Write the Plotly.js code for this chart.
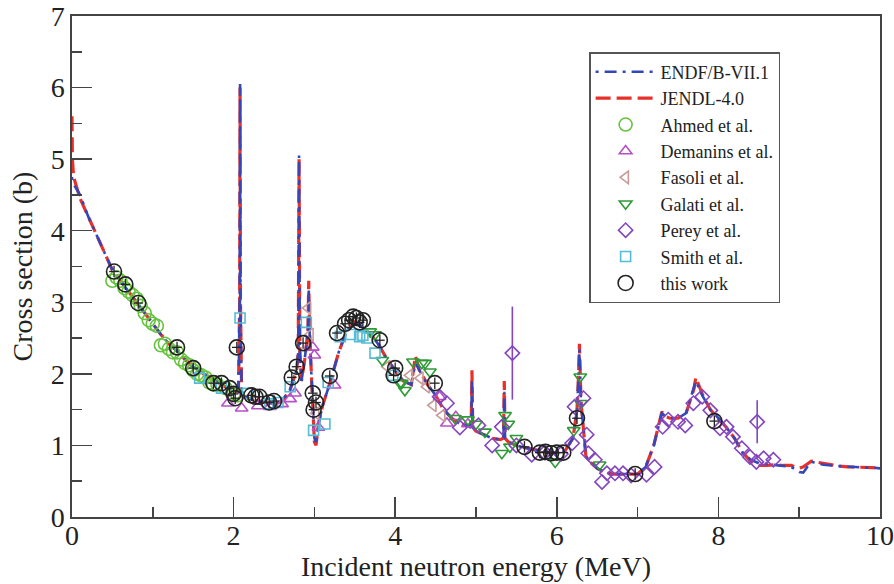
<!DOCTYPE html>
<html>
<head>
<meta charset="utf-8">
<script src="https://cdn.plot.ly/plotly-3.0.1.min.js"></script>
<style>html,body{margin:0;padding:0;background:#fff;}#chart{width:894px;height:584px;}</style>
</head>
<body>
<div id="chart"></div>
<script>
// ---- Evaluated data (ENDF/B-VII.1) ----
const endfX = [0,0.005,0.02,0.1,0.2,0.3,0.4,0.5,0.6,0.7,0.8,0.9,1.0,1.1,1.2,1.3,1.4,1.5,1.6,1.7,1.8,1.9,2.0,2.06,2.075,2.08,2.085,2.1,2.2,2.3,2.4,2.5,2.6,2.7,2.78,2.8,2.81,2.82,2.84,2.88,2.92,2.93,2.94,2.97,3.0,3.02,3.05,3.1,3.2,3.3,3.4,3.5,3.6,3.7,3.8,3.9,4.0,4.1,4.2,4.25,4.3,4.4,4.5,4.6,4.7,4.8,4.9,4.94,4.95,4.96,5.0,5.1,5.2,5.3,5.34,5.35,5.36,5.4,5.5,5.6,5.7,5.8,5.9,6.0,6.1,6.2,6.25,6.27,6.28,6.3,6.33,6.36,6.4,6.5,6.6,6.7,6.8,6.9,7.0,7.1,7.2,7.3,7.35,7.4,7.5,7.6,7.7,7.72,7.8,7.9,8.0,8.1,8.2,8.3,8.4,8.5,8.6,8.7,8.8,8.9,9.0,9.05,9.1,9.15,9.2,9.3,9.4,9.5,9.6,9.7,9.8,9.9,10];
const endfY = [4.75,4.7,4.65,4.5,4.2,3.95,3.7,3.45,3.3,3.15,3.0,2.85,2.7,2.55,2.42,2.32,2.2,2.1,2.02,1.95,1.88,1.82,1.77,1.75,3.0,6.05,3.0,1.7,1.65,1.62,1.6,1.58,1.62,1.78,2.05,2.3,5.05,2.3,1.9,2.2,2.6,3.2,2.6,1.8,1.1,1.05,1.3,1.55,1.9,2.3,2.6,2.72,2.65,2.55,2.4,2.2,2.05,1.9,1.85,2.15,2.05,1.85,1.7,1.5,1.38,1.3,1.28,1.25,1.9,1.25,1.2,1.15,1.1,1.08,1.1,1.75,1.1,1.05,1.0,0.97,0.95,0.92,0.9,0.9,0.92,1.1,1.5,2.0,2.35,1.6,1.2,0.85,0.78,0.68,0.62,0.6,0.6,0.6,0.6,0.7,1.0,1.45,1.4,1.38,1.38,1.45,1.8,1.9,1.7,1.5,1.38,1.25,1.1,0.9,0.8,0.75,0.74,0.73,0.72,0.7,0.63,0.62,0.7,0.77,0.76,0.73,0.72,0.71,0.7,0.7,0.69,0.69,0.68];
// ---- Evaluated data (JENDL-4.0) ----
const jendlX = [0,0.005,0.02,0.1,0.2,0.3,0.4,0.5,0.6,0.7,0.8,0.9,1.0,1.1,1.2,1.3,1.4,1.5,1.6,1.7,1.8,1.9,2.0,2.06,2.075,2.08,2.085,2.1,2.2,2.3,2.4,2.5,2.6,2.7,2.78,2.8,2.81,2.82,2.84,2.88,2.92,2.93,2.94,2.97,3.0,3.02,3.05,3.1,3.2,3.3,3.4,3.5,3.6,3.7,3.8,3.9,4.0,4.1,4.2,4.25,4.3,4.4,4.5,4.6,4.7,4.8,4.9,4.94,4.95,4.96,5.0,5.1,5.2,5.3,5.34,5.35,5.36,5.4,5.5,5.6,5.7,5.8,5.9,6.0,6.1,6.2,6.25,6.27,6.28,6.3,6.33,6.36,6.4,6.5,6.6,6.7,6.8,6.9,7.0,7.1,7.2,7.3,7.35,7.4,7.5,7.6,7.7,7.72,7.8,7.9,8.0,8.1,8.2,8.3,8.4,8.5,8.6,8.7,8.8,8.9,9.0,9.05,9.1,9.15,9.2,9.3,9.4,9.5,9.6,9.7,9.8,9.9,10];
const jendlY = [5.6,5.0,4.75,4.45,4.2,3.95,3.7,3.45,3.3,3.15,3.0,2.85,2.7,2.55,2.42,2.32,2.2,2.1,2.02,1.95,1.88,1.82,1.77,1.75,3.0,6.0,3.0,1.7,1.65,1.62,1.6,1.58,1.62,1.78,2.05,2.3,5.0,2.3,1.9,2.2,2.6,3.3,2.6,1.8,1.05,1.0,1.3,1.55,1.9,2.3,2.6,2.72,2.65,2.55,2.4,2.2,2.05,1.9,1.85,2.25,2.05,1.85,1.7,1.5,1.38,1.3,1.28,1.25,2.05,1.25,1.2,1.15,1.1,1.08,1.1,1.9,1.1,1.05,1.0,0.97,0.95,0.92,0.9,0.9,0.92,1.1,1.5,2.0,2.42,1.6,1.2,0.85,0.78,0.68,0.62,0.6,0.6,0.6,0.6,0.7,1.0,1.47,1.4,1.38,1.38,1.45,1.8,1.95,1.72,1.5,1.38,1.25,1.1,0.9,0.78,0.72,0.72,0.73,0.72,0.72,0.68,0.7,0.74,0.78,0.77,0.75,0.72,0.71,0.7,0.7,0.7,0.69,0.68];

// ---- Experimental data ----
const ahmedX = [0.5,0.55,0.6,0.65,0.7,0.75,0.8,0.85,0.9,0.95,1.0,1.05,1.1,1.15,1.2,1.25,1.3,1.35,1.4,1.45,1.5,1.55,1.6,1.65,1.7,1.75,1.8,1.9,2.0,2.05];
const ahmedY = [3.3,3.35,3.3,3.2,3.15,3.1,3.05,2.95,2.85,2.75,2.7,2.67,2.4,2.42,2.35,2.3,2.3,2.2,2.15,2.12,2.05,2.0,1.98,1.95,1.88,1.85,1.85,1.8,1.72,1.7];

const demaninsX = [1.93,2.1,2.3,2.45,2.6,2.7,2.76,2.98,3.0,3.05,3.25,4.55,4.64,4.75,4.9];
const demaninsY = [1.59,1.52,1.55,1.54,1.58,1.65,1.73,2.37,2.26,1.25,1.84,1.68,1.31,1.4,1.3];

const fasoliX = [2.92,2.95,3.02,3.9,4.18,4.31,4.39,4.47,4.58];
const fasoliY = [2.92,2.55,1.45,2.1,1.98,1.94,1.82,1.56,1.42];

const galatiX = [3.69,3.75,3.84,4.06,4.08,4.12,4.22,4.33,4.37,4.43,4.74,4.9,5.0,5.11,5.32,5.36,5.4,5.42,5.5,5.98,6.21,6.29,6.3,6.53];
const galatiY = [2.59,2.55,2.19,1.87,1.87,1.77,2.17,2.15,2.15,2.03,1.38,1.36,1.3,1.19,0.89,1.42,1.3,0.98,1.1,0.77,1.21,1.96,1.59,0.73];

const pereyX = [4.55,4.64,4.8,5.03,5.2,5.32,5.45,5.5,5.69,5.85,6.05,6.19,6.22,6.33,6.37,6.39,6.47,6.56,6.62,6.72,6.82,6.92,7.11,7.21,7.31,7.38,7.5,7.59,7.69,7.8,7.9,8.02,8.1,8.18,8.29,8.39,8.47,8.48,8.56,8.68];
const pereyY = [1.68,1.59,1.25,1.28,1.0,1.26,2.29,1.0,0.87,0.9,0.88,1.03,1.54,1.66,1.15,0.89,0.8,0.49,0.61,0.61,0.61,0.58,0.59,0.7,1.26,1.36,1.33,1.28,1.59,1.68,1.49,1.24,1.26,1.12,0.96,0.84,0.77,1.33,0.82,0.8];
const pereyErr = [0,0,0,0,0,0,0.65,0,0,0,0,0,0,0,0,0,0,0,0,0,0,0,0,0,0,0,0,0,0,0,0,0,0,0,0,0,0,0.3,0,0];

const smithX = [1.58,1.85,2.08,2.17,2.45,2.55,2.7,2.9,2.99,3.13,3.17,3.32,3.45,3.56,3.6,3.65,3.75,3.97];
const smithY = [1.94,1.8,2.78,1.73,1.58,1.6,1.82,2.72,1.21,1.3,1.88,2.52,2.55,2.52,2.54,2.5,2.29,1.98];

const thisX = [0.52,0.66,0.82,1.3,1.5,1.75,1.85,1.95,2.0,2.02,2.04,2.22,2.27,2.32,2.44,2.5,2.72,2.78,2.86,2.98,2.99,3.02,3.19,3.28,3.38,3.43,3.48,3.52,3.56,3.6,3.81,3.98,4.0,4.49,5.6,5.79,5.86,5.93,6.0,6.08,6.25,6.97,7.95];
const thisY = [3.43,3.25,2.99,2.37,2.08,1.87,1.87,1.8,1.72,1.66,2.37,1.7,1.68,1.68,1.6,1.62,1.95,2.1,2.43,1.73,1.5,1.6,1.97,2.57,2.7,2.75,2.8,2.78,2.72,2.75,2.47,1.98,2.08,1.87,0.98,0.9,0.91,0.89,0.9,0.9,1.38,0.6,1.34];
const thisErrY = 0.08;
const thisErrX = 0.06;

const serif = "'Liberation Serif', 'DejaVu Serif', serif";

function dataTrace(name, x, y, symbol, color, size, rank, extra) {
  return Object.assign({
    type: 'scatter', mode: 'markers', name: name, x: x, y: y,
    legendrank: rank,
    marker: {symbol: symbol, size: size, color: color, line: {color: color, width: 1.6}}
  }, extra || {});
}

const traces = [
  {type:'scatter', mode:'lines', name:'JENDL-4.0', x: jendlX, y: jendlY, legendrank: 2,
   line:{color:'#e8302a', width:3.2, dash:'15px,6px'}},
  {type:'scatter', mode:'lines', name:'ENDF/B-VII.1', x: endfX, y: endfY, legendrank: 1,
   line:{color:'#3447b8', width:2.6, dash:'3px,6px,12px,6px'}},
  dataTrace('Ahmed et al.', ahmedX, ahmedY, 'circle-open', '#66c23f', 13, 3),
  dataTrace('Demanins et al.', demaninsX, demaninsY, 'triangle-up-open', '#b650c6', 11, 4),
  dataTrace('Fasoli et al.', fasoliX, fasoliY, 'triangle-left-open', '#c99a9a', 11, 5),
  dataTrace('Galati et al.', galatiX, galatiY, 'triangle-down-open', '#2f9a35', 11, 6),
  dataTrace('Perey et al.', pereyX, pereyY, 'diamond-open', '#8446bd', 11, 7,
    {error_y:{type:'data', array: pereyErr, visible:true, color:'#8446bd', thickness:1.6, width:0}}),
  dataTrace('Smith et al.', smithX, smithY, 'square-open', '#55bcd6', 10, 8),
  dataTrace('this work', thisX, thisY, 'circle-open', '#222222', 15, 9,
    {error_y:{type:'constant', value: thisErrY, color:'#222', thickness:1.3, width:0},
     error_x:{type:'constant', value: thisErrX, color:'#222', thickness:1.3, width:0}})
];

const axisCommon = {
  showgrid:false, zeroline:false, showline:true, mirror:true,
  linecolor:'#444', linewidth:1.6,
  ticks:'inside', ticklen:20, tickwidth:1.5, tickcolor:'#444',
  tickfont:{family: serif, size:28, color:'#222'},
  automargin:false
};

const layout = {
  width:894, height:584,
  margin:{l:72, r:14, t:16, b:67},
  paper_bgcolor:'#fff', plot_bgcolor:'#fff',
  font:{family: serif},
  showlegend:true,
  legend:{x:0.64, y:0.928, xanchor:'left', yanchor:'top',
    bgcolor:'#fff', bordercolor:'#555', borderwidth:1.5, itemwidth:60,
    font:{family: serif, size:18, color:'#222'}, tracegroupgap:0},
  xaxis: Object.assign({}, axisCommon, {
    range:[0,10], tickvals:[0,2,4,6,8,10], ticklabelstandoff:-7,
    minor:{tickvals:[1,3,5,7,9], ticklen:10, tickwidth:1.5, tickcolor:'#444', ticks:'inside'},
    title:{text:'Incident neutron energy (MeV)', font:{family: serif, size:28, color:'#222'}, standoff:0}
  }),
  yaxis: Object.assign({}, axisCommon, {
    range:[0,7], tickvals:[0,1,2,3,4,5,6,7],
    minor:{tickvals:[0.5,1.5,2.5,3.5,4.5,5.5,6.5], ticklen:10, tickwidth:1.5, tickcolor:'#444', ticks:'inside'},
    title:{text:'Cross section (b)', font:{family: serif, size:28, color:'#222'}, standoff:10}
  })
};

Plotly.newPlot('chart', traces, layout, {displayModeBar:false, staticPlot:true});
</script>
</body>
</html>
